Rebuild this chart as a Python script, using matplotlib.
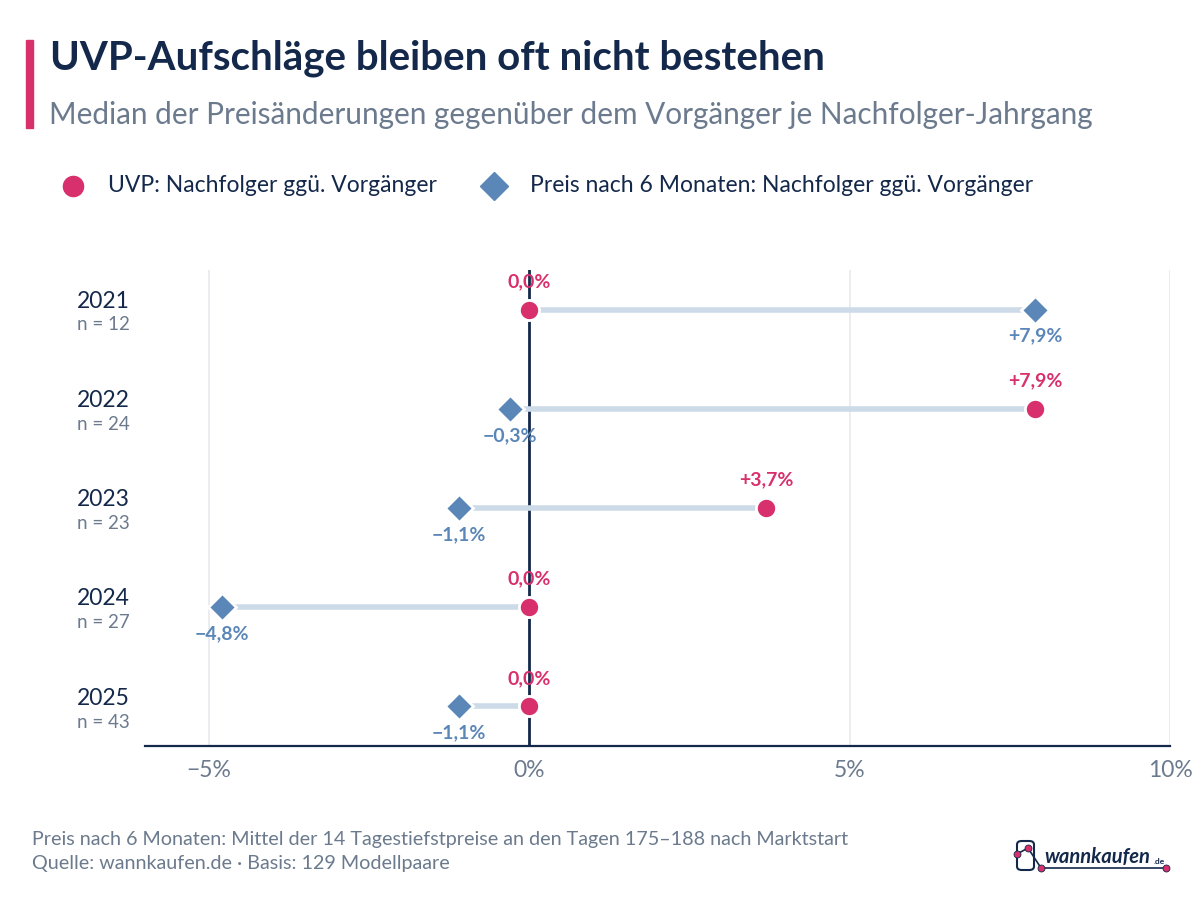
#!/usr/bin/env python3
"""Dumbbell chart: UVP vs. price after 6 months, per successor year."""
import matplotlib
matplotlib.use("Agg")
import matplotlib.pyplot as plt
from matplotlib.patches import FancyBboxPatch, Rectangle
from matplotlib.lines import Line2D

years = ["2021", "2022", "2023", "2024", "2025"]
counts = [12, 24, 23, 27, 43]
uvp_change = [0.0, 7.9, 3.7, 0.0, 0.0]
price6_change = [7.9, -0.3, -1.1, -4.8, -1.1]
x_ticks = [-5, 0, 5, 10]

PINK = "#d8306c"
BLUE = "#5b87b8"
NAVY = "#13284a"
GRAY = "#6b7a8d"
CONNECT = "#cddbe8"

plt.rcParams["font.family"] = ["Lato", "DejaVu Sans"]


def fmt(v, sign=True):
    s = f"{abs(v):.1f}".replace(".", ",") + "%"
    if v > 0 and sign:
        return "+" + s
    if v < 0:
        return "\u2212" + s
    return s


def tick_fmt(v):
    return ("\u2212" if v < 0 else "") + f"{abs(v):g}%"


def main():
    fig = plt.figure(figsize=(12, 9), dpi=100)
    ax = fig.add_axes([145 / 1200, 1 - 746 / 900, 1025 / 1200, 476 / 900])

    ys = list(range(len(years)))

    for xv in x_ticks:
        if xv != 0:
            ax.axvline(xv, color="#e6e9ee", lw=1.2, zorder=0)
    ax.axvline(0, color=NAVY, lw=2, zorder=1)

    for y, u, p in zip(ys, uvp_change, price6_change):
        ax.plot([u, p], [y, y], color=CONNECT, lw=4, solid_capstyle="butt", zorder=2)

    ax.plot(uvp_change, ys, "o", color=PINK, ms=14.5, mec="white", mew=2, zorder=4)
    ax.plot(price6_change, ys, "D", color=BLUE, ms=14, mec="white", mew=2, zorder=3)

    for y, u, p in zip(ys, uvp_change, price6_change):
        ax.annotate(fmt(u), (u, y), xytext=(0, 14), textcoords="offset points",
                    ha="center", va="bottom", color=PINK, fontsize=14, fontweight="bold")
        ax.annotate(fmt(p), (p, y), xytext=(0, -13), textcoords="offset points",
                    ha="center", va="top", color=BLUE, fontsize=14, fontweight="bold")

    ax.set_xlim(-6, 10)
    ax.set_ylim(4.4, -0.4)
    ax.set_xticks(x_ticks)
    ax.set_xticklabels([tick_fmt(v) for v in x_ticks], color=GRAY, fontsize=16.5)
    ax.tick_params(axis="x", length=0, pad=10)
    ax.set_yticks([])
    for side in ["top", "right", "left"]:
        ax.spines[side].set_visible(False)
    ax.spines["bottom"].set_color(NAVY)
    ax.spines["bottom"].set_linewidth(1.6)

    # year labels with n
    for y, yr, n in zip(ys, years, counts):
        yfig = 310 + y * 99.3
        fig.text(77 / 1200, 1 - (yfig - 9) / 900, yr, fontsize=16.5, color=NAVY,
                 ha="left", va="center")
        fig.text(77 / 1200, 1 - (yfig + 15) / 900, f"n = {n}", fontsize=13.5, color=GRAY,
                 ha="left", va="center")

    # title block
    fig.patches.append(Rectangle((26 / 1200, 1 - 128 / 900), 7 / 1200, 88 / 900,
                                 transform=fig.transFigure, color=PINK, zorder=5))
    fig.text(50 / 1200, 1 - 58 / 900, "UVP-Aufschläge bleiben oft nicht bestehen",
             fontsize=29, fontweight="bold", color=NAVY, va="center", ha="left")
    fig.text(49 / 1200, 1 - 115 / 900,
             "Median der Preisänderungen gegenüber dem Vorgänger je Nachfolger-Jahrgang",
             fontsize=21.4, color=GRAY, va="center", ha="left")

    # legend
    fig.lines.append(Line2D([73 / 1200], [1 - 186 / 900], marker="o", ms=14.5, color=PINK,
                            transform=fig.transFigure))
    fig.text(108 / 1200, 1 - 186 / 900, "UVP: Nachfolger ggü. Vorgänger",
             fontsize=16.5, color=NAVY, va="center", ha="left")
    fig.lines.append(Line2D([494 / 1200], [1 - 186 / 900], marker="D", ms=14, color=BLUE,
                            transform=fig.transFigure))
    fig.text(530 / 1200, 1 - 186 / 900, "Preis nach 6 Monaten: Nachfolger ggü. Vorgänger",
             fontsize=16.5, color=NAVY, va="center", ha="left")

    # footer
    fig.text(32 / 1200, 1 - 840 / 900,
             "Preis nach 6 Monaten: Mittel der 14 Tagestiefstpreise an den Tagen 175\u2013188 nach Marktstart",
             fontsize=14.2, color=GRAY, va="center", ha="left")
    fig.text(32 / 1200, 1 - 863 / 900, "Quelle: wannkaufen.de \u00b7 Basis: 129 Modellpaare",
             fontsize=14.2, color=GRAY, va="center", ha="left")

    # logo
    fig.patches.append(FancyBboxPatch((1017 / 1200, 1 - 870 / 900), 17 / 1200, 29 / 900,
                                      boxstyle="round,pad=0,rounding_size=0.004",
                                      transform=fig.transFigure, fill=False,
                                      ec=NAVY, lw=1.5))
    pts_x = [1017 / 1200, 1028 / 1200, 1041 / 1200, 1166 / 1200]
    pts_y = [1 - 854 / 900, 1 - 848 / 900, 1 - 868 / 900, 1 - 868 / 900]
    fig.lines.append(Line2D(pts_x, pts_y, transform=fig.transFigure, color=NAVY, lw=1.2))
    fig.lines.append(Line2D(pts_x, pts_y, transform=fig.transFigure, ls="none", marker="o",
                            ms=5, color=PINK, mec=NAVY, mew=0.6))
    fig.text(1044 / 1200, 1 - 857 / 900, "wannkaufen", fontsize=14.5, fontweight="bold",
             fontstyle="italic", color=NAVY, va="center", ha="left")
    fig.text(1154 / 1200, 1 - 861 / 900, ".de", fontsize=6, fontweight="bold",
             color=NAVY, va="center", ha="left")

    fig.savefig("out.png", dpi=100, facecolor="white")


if __name__ == "__main__":
    main()
